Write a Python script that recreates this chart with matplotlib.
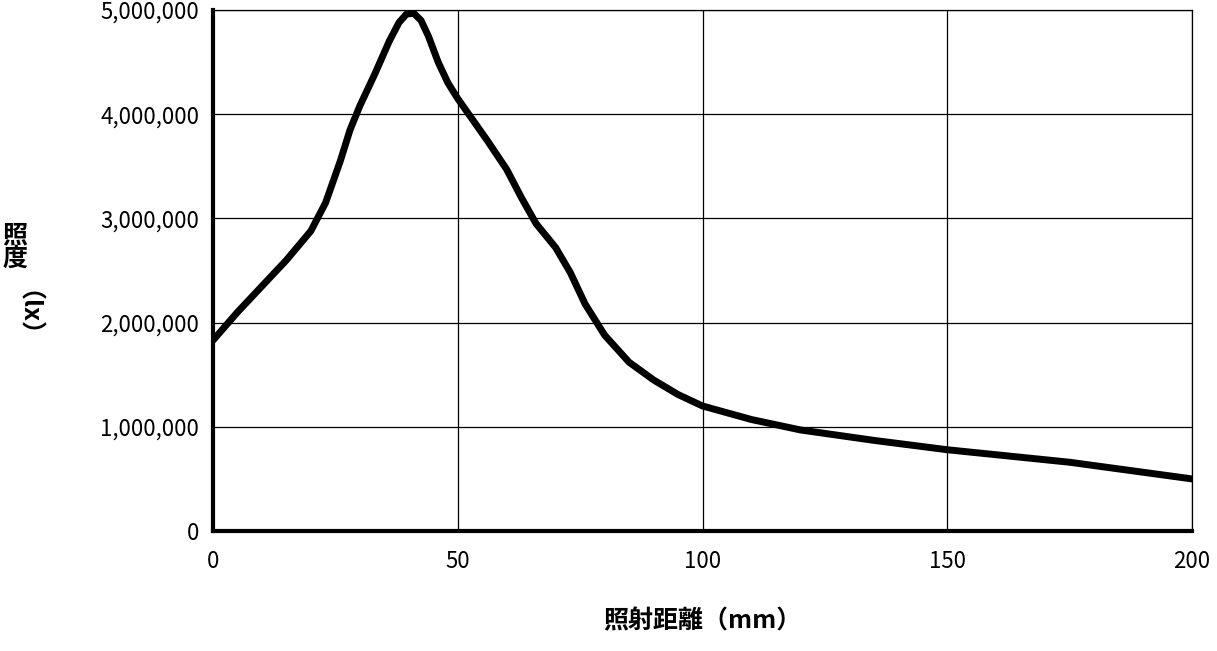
import matplotlib
matplotlib.use("Agg")
import matplotlib.pyplot as plt
from matplotlib.ticker import FuncFormatter

plt.rcParams['font.family'] = ['Noto Sans CJK JP', 'DejaVu Sans']

distance_mm = [0, 5, 10, 15, 20, 23, 26, 28, 30, 33, 36, 38, 39.5, 41, 42.5, 44, 46, 48, 50, 53, 56, 60, 63, 66, 70, 73, 76, 80, 85, 90, 95, 100, 110, 120, 135, 150, 175, 200]
illuminance_lx = [1.83e6, 2.1e6, 2.35e6, 2.6e6, 2.88e6, 3.15e6, 3.55e6, 3.85e6, 4.08e6, 4.38e6, 4.7e6, 4.88e6, 4.96e6, 4.97e6, 4.9e6, 4.75e6, 4.5e6, 4.3e6, 4.15e6, 3.95e6, 3.75e6, 3.47e6, 3.2e6, 2.95e6, 2.72e6, 2.48e6, 2.18e6, 1.88e6, 1.62e6, 1.45e6, 1.31e6, 1.2e6, 1.07e6, 0.97e6, 0.87e6, 0.78e6, 0.66e6, 0.5e6]
x_ticks = [0, 50, 100, 150, 200]
y_ticks = [0, 1e6, 2e6, 3e6, 4e6, 5e6]

fig = plt.figure(figsize=(12.17, 6.51), dpi=100)
ax = fig.add_axes([0.175, 0.1843, 0.8045, 0.8003])
ax.plot(distance_mm, illuminance_lx, color='black', lw=5, solid_capstyle='round', solid_joinstyle='round', zorder=3)
ax.set_xlim(0, 200)
ax.set_ylim(0, 5e6)
ax.set_xticks(x_ticks)
ax.set_yticks(y_ticks)
ax.yaxis.set_major_formatter(FuncFormatter(lambda v, p: f"{int(v):,}"))
ax.grid(True, color='black', lw=0.9)
for s in ['top', 'right']:
    ax.spines[s].set_linewidth(0.9)
for s in ['left', 'bottom']:
    ax.spines[s].set_linewidth(3)
ax.tick_params(length=0, labelsize=16, pad=10)
ax.tick_params(axis='x', pad=14)
ax.set_xlabel('照射距離（mm）', fontsize=18, fontweight='bold', labelpad=26)
fig.text(0.002, 0.62, '照\n度', fontsize=18, fontweight='bold', ha='left', va='center', linespacing=0.95)
fig.text(0.002, 0.50, '（lx）', fontsize=18, fontweight='bold', rotation=270, ha='left', va='center')
fig.savefig('out.png', dpi=100)
